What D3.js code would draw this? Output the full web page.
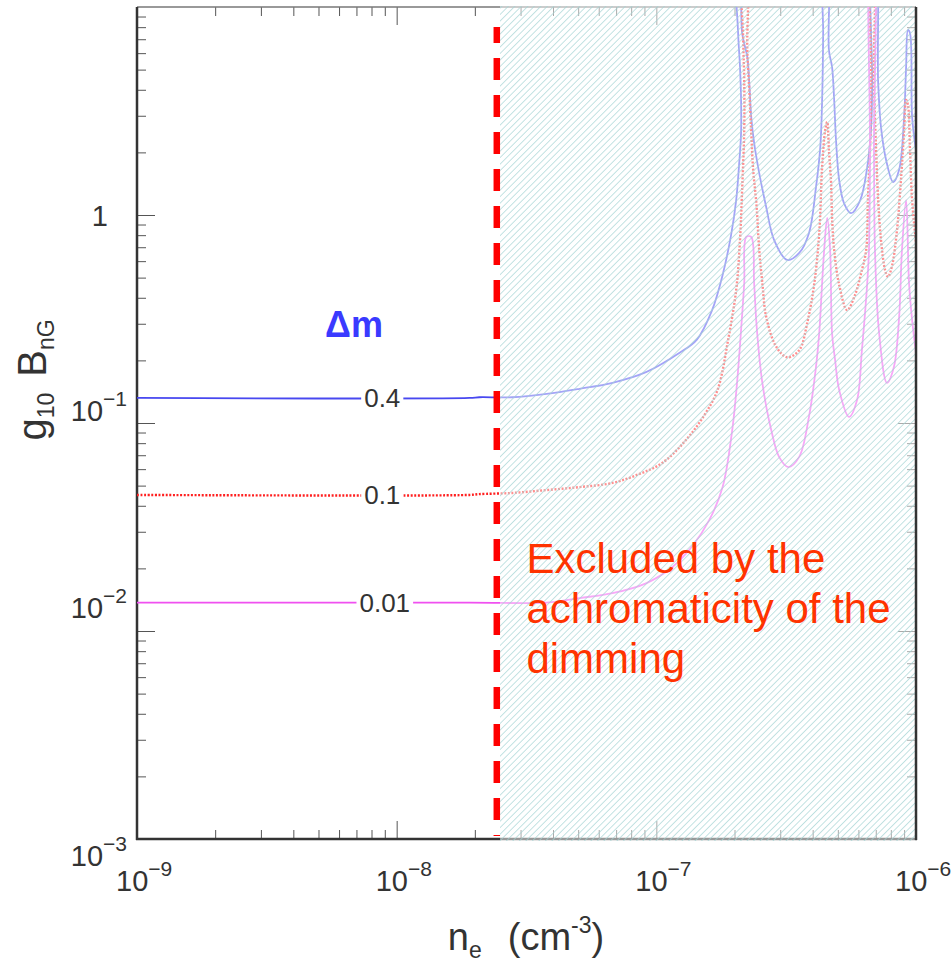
<!DOCTYPE html>
<html>
<head>
<meta charset="utf-8">
<script src="https://cdn.jsdelivr.net/npm/d3@7"></script>
<style>
  body { margin: 0; background: #fff; }
  svg { display: block; }
  text { font-family: "Liberation Sans", Arial, Helvetica, sans-serif; }
</style>
</head>
<body>
<script>
// g10*B_nG needed for a given dimming dm, versus electron density n_e
var blueNe = [1e-9, 1.91e-8, 2.08e-8, 2.79e-8, 3.78e-8, 5.06e-8, 6.78e-8, 9.17e-8, 1.225e-7, 1.43e-7,
  1.64e-7, 1.80e-7, 1.94e-7, 2.03e-7, 2.08e-7, 2.12e-7, 2.12e-7, 2.10e-7, 2.065e-7, 2.03e-7,
  2.08e-7, 2.14e-7, 2.24e-7, 2.28e-7, 2.32e-7, 2.38e-7, 2.49e-7, 2.65e-7, 2.84e-7, 3.19e-7,
  3.55e-7, 3.87e-7, 4.12e-7, 4.28e-7, 4.35e-7, 4.39e-7, 4.39e-7,
  4.55e-7, 4.62e-7, 4.75e-7, 4.84e-7, 4.92e-7, 5.06e-7, 5.28e-7, 5.62e-7, 6.10e-7, 6.49e-7,
  6.72e-7, 6.78e-7, 6.78e-7,
  6.95e-7, 7.15e-7, 7.33e-7, 7.67e-7, 8.17e-7, 8.61e-7, 9.00e-7, 9.16e-7, 9.31e-7, 9.48e-7,
  9.66e-7, 1e-6];
var blueG = [0.132, 0.132, 0.133, 0.133, 0.138, 0.146, 0.156, 0.176, 0.217, 0.251,
  0.349, 0.515, 0.80, 1.18, 1.70, 2.48, 3.57, 5.15, 7.5, 20,
  20, 7.5, 5.75, 4.31, 2.96, 2.22, 1.59, 1.09, 0.76, 0.608,
  0.657, 0.818, 1.36, 2.12, 3.57, 7.5, 20,
  20, 6.21, 5.15, 3.57, 2.29, 1.47, 1.14, 1.02, 1.18, 1.70,
  2.65, 4.31, 20,
  20, 4.31, 2.65, 1.84, 1.44, 1.65, 2.96, 5.15, 7.75, 7.5,
  2.96, 2.05];

var redNe = [1e-9, 1.91e-8, 2.08e-8, 2.79e-8, 3.78e-8, 5.06e-8, 6.78e-8, 8.61e-8, 1.055e-7, 1.30e-7,
  1.53e-7, 1.72e-7, 1.89e-7, 2.03e-7, 2.10e-7, 2.14e-7, 2.18e-7, 2.18e-7, 2.16e-7, 2.14e-7,
  2.22e-7, 2.24e-7, 2.28e-7, 2.32e-7, 2.36e-7, 2.43e-7, 2.49e-7, 2.56e-7, 2.65e-7, 2.90e-7,
  3.19e-7, 3.55e-7, 3.81e-7, 4.06e-7, 4.24e-7, 4.35e-7, 4.47e-7, 4.55e-7, 4.62e-7, 4.71e-7,
  4.75e-7, 4.84e-7, 5.06e-7, 5.43e-7, 5.82e-7, 6.19e-7, 6.43e-7, 6.53e-7, 6.65e-7, 6.72e-7, 6.72e-7,
  6.84e-7, 6.89e-7, 7.02e-7, 7.15e-7, 7.33e-7, 7.60e-7, 7.80e-7, 8.10e-7, 8.45e-7, 8.75e-7,
  9.00e-7, 9.16e-7, 9.31e-7, 9.48e-7, 9.66e-7, 1e-6];
var redG = [0.0451, 0.0451, 0.0455, 0.0461, 0.0476, 0.0492, 0.0515, 0.0569, 0.0643, 0.0828,
  0.109, 0.144, 0.251, 0.436, 0.76, 1.32, 2.56, 4.46, 6.94, 20,
  20, 6.21, 3.99, 2.48, 1.65, 1.12, 0.679, 0.471, 0.323, 0.232,
  0.207, 0.224, 0.302, 0.471, 0.818, 1.70, 2.56, 2.8, 2.05, 1.43,
  0.978, 0.679, 0.461, 0.349, 0.412, 0.544, 0.679, 1.18, 2.05, 4.46, 20,
  20, 4.46, 2.05, 1.18, 0.76, 0.544, 0.504, 0.575, 0.847, 1.47,
  2.56, 3.57, 3.38, 2.05, 1.18, 0.734];

var pinkNe = [1e-9, 1.91e-8, 3.78e-8, 5.06e-8, 6.78e-8, 9.17e-8, 1.153e-7, 1.37e-7, 1.60e-7, 1.80e-7,
  1.96e-7, 2.05e-7, 2.12e-7, 2.18e-7, 2.22e-7, 2.32e-7, 2.38e-7, 2.44e-7, 2.56e-7, 2.77e-7,
  2.97e-7, 3.22e-7, 3.55e-7, 3.87e-7, 4.12e-7, 4.24e-7, 4.35e-7, 4.43e-7, 4.55e-7, 4.67e-7,
  4.75e-7, 4.88e-7, 5.06e-7, 5.52e-7, 5.93e-7, 6.19e-7, 6.49e-7, 6.59e-7, 6.65e-7, 6.72e-7,
  6.84e-7, 6.89e-7, 6.95e-7, 7.21e-7, 7.73e-7, 8.22e-7, 8.61e-7, 8.83e-7, 9.16e-7, 9.40e-7,
  9.66e-7, 1e-6];
var pinkG = [0.0137, 0.0137, 0.0137, 0.0144, 0.0152, 0.0170, 0.0203, 0.0254, 0.0342, 0.0492,
  0.0925, 0.161, 0.280, 0.471, 0.784, 0.784, 0.471, 0.280, 0.156, 0.0925,
  0.0687, 0.0614, 0.0687, 0.107, 0.186, 0.271, 0.471, 0.679, 0.968, 0.679,
  0.271, 0.201, 0.144, 0.107, 0.129, 0.224, 0.471, 0.679, 2.05, 20,
  20, 2.05, 0.679, 0.271, 0.156, 0.186, 0.323, 0.679, 1.18, 0.471,
  0.313, 0.217];

var curveLabels = ["0.4", "0.1", "0.01"];
var curveLabelNe = [8.8e-9, 8.8e-9, 9.0e-9];
var curveLabelG = [0.132, 0.0451, 0.0137];

var xMajor = [1e-9, 1e-8, 1e-7, 1e-6];
var xExpLabels = ["\u22129", "\u22128", "\u22127", "\u22126"];
var yMajor = [1e-3, 1e-2, 1e-1, 1];
var yExpLabels = ["\u22123", "\u22122", "\u22121", ""];

var achromaticLimit = 2.43e-8;   // red dashed line
var excludedFrom = 2.5e-8;       // hatched region start
var noteLines = ["Excluded by the", "achromaticity of the", "dimming"];

// ---- layout
var W = 951, H = 964;
var yLabelDy = [27, -13, -2, 11];   // baseline shift of the y tick labels, as drawn in the original
var x = d3.scaleLog().domain([1e-9, 1e-6]).range([137, 916]);
var y = d3.scaleLog().domain([1e-3, 10]).range([839, 7]);

var svg = d3.select("body").append("svg")
  .attr("width", W).attr("height", H);

var defs = svg.append("defs");
defs.append("clipPath").attr("id", "plotclip")
  .append("rect").attr("x", 137).attr("y", 7).attr("width", 779).attr("height", 832);
var pat = defs.append("pattern").attr("id", "hatch")
  .attr("patternUnits", "userSpaceOnUse")
  .attr("width", 4.6).attr("height", 4.6)
  .attr("patternTransform", "rotate(45)");
pat.append("line").attr("x1", 0).attr("y1", 0).attr("x2", 0).attr("y2", 4.6)
  .attr("stroke", "#a3d3d3").attr("stroke-width", 1.3);

// minor tick positions
function minorTicks(lo, hi) {
  var out = [];
  for (var e = lo; e < hi; e++) for (var k = 2; k <= 9; k++) out.push(k * Math.pow(10, e));
  return out;
}
var xMinor = minorTicks(-9, -6);
var yMinor = minorTicks(-3, 1);

function styleAxis(g) {
  g.select(".domain").remove();
  g.selectAll(".tick line").attr("stroke", "#555").attr("stroke-width", 1);
  g.selectAll(".tick text").remove();
}
svg.append("g").attr("transform", "translate(0,839)")
  .call(d3.axisBottom(x).tickValues(xMinor).tickSize(-9)).call(styleAxis);
svg.append("g").attr("transform", "translate(0,839)")
  .call(d3.axisBottom(x).tickValues(xMajor).tickSize(-18)).call(styleAxis);
svg.append("g").attr("transform", "translate(0,7)")
  .call(d3.axisTop(x).tickValues(xMinor).tickSize(-9)).call(styleAxis);
svg.append("g").attr("transform", "translate(0,7)")
  .call(d3.axisTop(x).tickValues(xMajor).tickSize(-18)).call(styleAxis);
svg.append("g").attr("transform", "translate(137,0)")
  .call(d3.axisLeft(y).tickValues(yMinor).tickSize(-9)).call(styleAxis);
svg.append("g").attr("transform", "translate(137,0)")
  .call(d3.axisLeft(y).tickValues(yMajor).tickSize(-18)).call(styleAxis);
svg.append("g").attr("transform", "translate(916,0)")
  .call(d3.axisRight(y).tickValues(yMinor).tickSize(-9)).call(styleAxis);
svg.append("g").attr("transform", "translate(916,0)")
  .call(d3.axisRight(y).tickValues(yMajor).tickSize(-18)).call(styleAxis);

// frame
svg.append("line").attr("x1", 137).attr("x2", 916).attr("y1", 7).attr("y2", 7)
  .attr("stroke", "#777").attr("stroke-width", 1.5);
svg.append("line").attr("x1", 136).attr("x2", 917).attr("y1", 839).attr("y2", 839)
  .attr("stroke", "#333").attr("stroke-width", 2.5);
svg.append("line").attr("x1", 137).attr("x2", 137).attr("y1", 7).attr("y2", 840)
  .attr("stroke", "#333").attr("stroke-width", 2.5);

// curves
var series = [
  { ne: blueNe, g: blueG, color: "#4848f0", width: 1.8, dash: null },
  { ne: redNe, g: redG, color: "#ff2020", width: 2.4, dash: "2,1.6" },
  { ne: pinkNe, g: pinkG, color: "#f050f0", width: 1.8, dash: null }
];
var line = d3.line()
  .x(function(d) { return x(d[0]); })
  .y(function(d) { return y(d[1]); })
  .curve(d3.curveCatmullRom.alpha(0.5));
var curves = svg.append("g").attr("clip-path", "url(#plotclip)");
series.forEach(function(s) {
  curves.append("path")
    .datum(d3.zip(s.ne, s.g))
    .attr("d", line)
    .attr("fill", "none")
    .attr("stroke", s.color)
    .attr("stroke-width", s.width)
    .attr("stroke-dasharray", s.dash);
});

// curve labels with a gap in the line
curveLabels.forEach(function(t, i) {
  var cx = x(curveLabelNe[i]), cy = y(curveLabelG[i]);
  var lbl = svg.append("text").attr("x", cx).attr("y", cy + 9)
    .attr("text-anchor", "middle").attr("font-size", 26).attr("fill", "#333").text(t);
  var bb = lbl.node().getBBox();
  svg.insert("rect", "text").attr("x", bb.x - 3).attr("y", cy - 4).attr("width", bb.width + 6)
    .attr("height", 8).attr("fill", "#fff");
});

// excluded region (hatched, drawn over curves)
var hx = x(excludedFrom);
svg.append("rect").attr("x", hx).attr("y", 6).attr("width", 915 - hx).attr("height", 835)
  .attr("fill", "#fff").attr("fill-opacity", 0.5);
svg.append("rect").attr("x", hx).attr("y", 6).attr("width", 915 - hx).attr("height", 835)
  .attr("fill", "url(#hatch)");

// right frame side
svg.append("line").attr("x1", 916).attr("x2", 916).attr("y1", 7).attr("y2", 840)
  .attr("stroke", "#333").attr("stroke-width", 2.5);

// dashed limit
svg.append("line")
  .attr("x1", x(achromaticLimit)).attr("x2", x(achromaticLimit))
  .attr("y1", 27).attr("y2", 836)
  .attr("stroke", "#ff0000").attr("stroke-width", 6.5)
  .attr("stroke-dasharray", "22,15").attr("stroke-dashoffset", 6);

// Δm
svg.append("text").attr("x", x(5.3e-9)).attr("y", y(0.259))
  .attr("font-size", 36).attr("font-weight", "bold").attr("fill", "#3a3aff").text("\u0394m");

// note
var note = svg.append("text").attr("font-size", 42).attr("fill", "#ff3300");
noteLines.forEach(function(t, i) {
  note.append("tspan").attr("x", x(3.16e-8)).attr("y", y(0.019) + i * 50).text(t);
});

// tick labels
xMajor.forEach(function(v, i) {
  var t = svg.append("text").attr("x", x(v) - 21).attr("y", 891)
    .attr("font-size", 29).attr("fill", "#333");
  t.append("tspan").text("10");
  t.append("tspan").attr("font-size", 21).attr("dy", -15).text(xExpLabels[i]);
});
yMajor.forEach(function(v, i) {
  var t = svg.append("text").attr("text-anchor", "end").attr("fill", "#333").attr("font-size", 29);
  if (yExpLabels[i] === "") {
    t.attr("x", 108).attr("y", y(v) + yLabelDy[i]).text("1");
  } else {
    t.attr("x", 127).attr("y", y(v) + yLabelDy[i]);
    t.append("tspan").text("10");
    t.append("tspan").attr("font-size", 21).attr("dy", -15).text(yExpLabels[i]);
  }
});

// axis titles
var xt = svg.append("text").attr("x", 526).attr("y", 950).attr("text-anchor", "middle")
  .attr("font-size", 38).attr("fill", "#333");
xt.append("tspan").text("n");
xt.append("tspan").attr("font-size", 23).attr("dy", 8).text("e");
xt.append("tspan").attr("dy", -8).attr("dx", 26).text("(cm");
xt.append("tspan").attr("font-size", 23).attr("dy", -17).text("-3");
xt.append("tspan").attr("dy", 17).text(")");

var yt = svg.append("text").attr("transform", "translate(46,380) rotate(-90)")
  .attr("text-anchor", "middle").attr("font-size", 40).attr("fill", "#333");
yt.append("tspan").text("g");
yt.append("tspan").attr("font-size", 23).attr("dy", 8).text("10");
yt.append("tspan").attr("dy", -8).attr("dx", 16).text("B");
yt.append("tspan").attr("font-size", 23).attr("dy", 8).text("nG");
</script>
</body>
</html>
